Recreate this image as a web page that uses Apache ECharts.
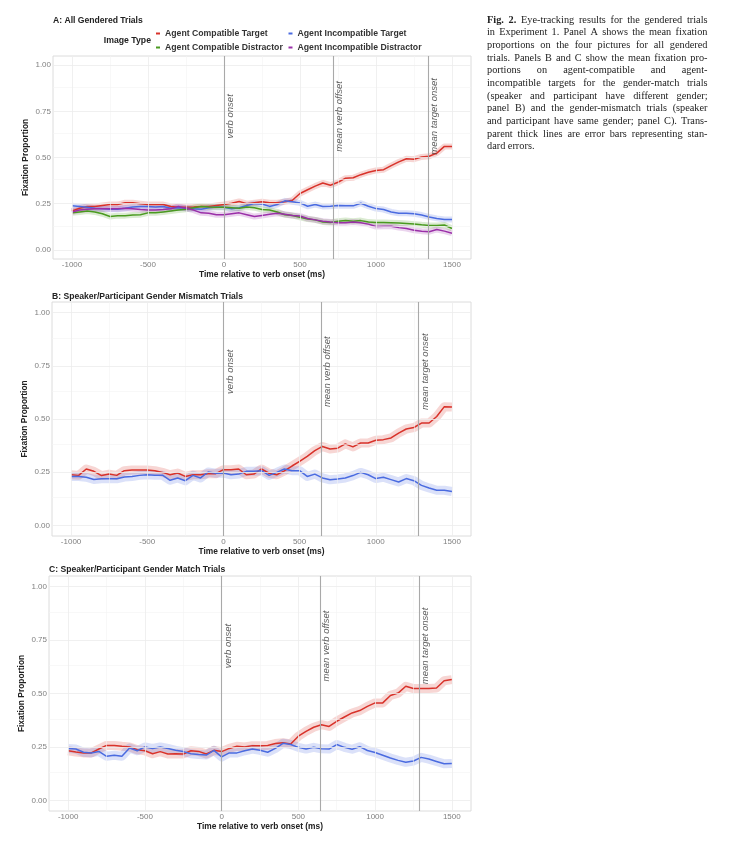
<!DOCTYPE html>
<html><head><meta charset="utf-8">
<script src="https://cdn.jsdelivr.net/npm/echarts@6/dist/echarts.min.js"></script>
<style>html,body{margin:0;padding:0;background:#fff}#chart{width:753px;height:860px}</style>
</head><body><div id="chart"></div>
<script>
// ---------------- data ----------------
const times = [-1000,-950,-900,-850,-800,-750,-700,-650,-600,-550,-500,-450,-400,-350,-300,-250,-200,-150,-100,-50,0,50,100,150,200,250,300,350,400,450,500,550,600,650,700,750,800,850,900,950,1000,1050,1100,1150,1200,1250,1300,1350,1400,1450,1500];

const seriesNames = ['Agent Compatible Target','Agent Incompatible Target','Agent Compatible Distractor','Agent Incompatible Distractor'];
const panelTitles = ['A: All Gendered Trials','B: Speaker/Participant Gender Mismatch Trials','C: Speaker/Participant Gender Match Trials'];
const legendTitle = 'Image Type';
const xAxisTitle = 'Time relative to verb onset (ms)';
const yAxisTitle = 'Fixation Proportion';

// Panel A
const aCompTarget = [0.21,0.225,0.235,0.235,0.24,0.245,0.245,0.255,0.255,0.25,0.245,0.245,0.245,0.235,0.23,0.23,0.232,0.235,0.235,0.24,0.245,0.252,0.262,0.25,0.255,0.26,0.255,0.255,0.26,0.268,0.305,0.325,0.345,0.362,0.35,0.366,0.388,0.39,0.407,0.42,0.43,0.434,0.456,0.476,0.493,0.491,0.503,0.507,0.524,0.56,0.56];
const aIncompTarget = [0.238,0.235,0.23,0.225,0.222,0.22,0.22,0.225,0.232,0.235,0.235,0.232,0.235,0.225,0.228,0.225,0.222,0.22,0.228,0.232,0.23,0.222,0.228,0.24,0.25,0.248,0.235,0.245,0.265,0.26,0.254,0.236,0.245,0.235,0.236,0.24,0.238,0.238,0.252,0.236,0.223,0.218,0.205,0.198,0.198,0.195,0.188,0.178,0.17,0.164,0.164];
const aCompDistractor = [0.2,0.205,0.21,0.205,0.195,0.18,0.185,0.185,0.188,0.19,0.2,0.2,0.205,0.21,0.215,0.22,0.228,0.235,0.232,0.23,0.23,0.228,0.225,0.232,0.228,0.218,0.215,0.205,0.19,0.186,0.176,0.167,0.162,0.151,0.148,0.155,0.158,0.155,0.158,0.15,0.148,0.148,0.147,0.145,0.142,0.139,0.135,0.132,0.132,0.134,0.115];
const aIncompDistractor = [0.205,0.215,0.22,0.222,0.222,0.222,0.222,0.225,0.222,0.218,0.215,0.215,0.218,0.222,0.235,0.225,0.215,0.2,0.198,0.19,0.19,0.195,0.2,0.19,0.18,0.186,0.192,0.198,0.192,0.186,0.183,0.169,0.162,0.155,0.15,0.146,0.146,0.15,0.146,0.139,0.126,0.128,0.128,0.12,0.115,0.106,0.101,0.098,0.11,0.101,0.09];

// Panel B
const bCompTarget = [0.238,0.235,0.265,0.254,0.234,0.241,0.235,0.257,0.26,0.26,0.26,0.257,0.249,0.238,0.246,0.23,0.238,0.238,0.243,0.243,0.262,0.262,0.265,0.238,0.241,0.265,0.245,0.238,0.256,0.279,0.301,0.324,0.351,0.371,0.359,0.363,0.383,0.369,0.387,0.387,0.4,0.403,0.411,0.434,0.453,0.46,0.481,0.481,0.512,0.558,0.556];
const bIncompTarget = [0.23,0.23,0.226,0.216,0.219,0.219,0.219,0.227,0.23,0.235,0.238,0.236,0.236,0.212,0.223,0.21,0.235,0.223,0.251,0.245,0.246,0.238,0.241,0.254,0.254,0.257,0.235,0.249,0.265,0.257,0.257,0.23,0.241,0.223,0.214,0.218,0.223,0.234,0.249,0.238,0.22,0.226,0.215,0.204,0.22,0.21,0.188,0.176,0.165,0.165,0.159];

// Panel C
const cCompTarget = [0.232,0.226,0.222,0.222,0.24,0.257,0.257,0.253,0.25,0.237,0.232,0.218,0.228,0.217,0.218,0.217,0.232,0.229,0.217,0.234,0.228,0.243,0.253,0.25,0.256,0.256,0.257,0.266,0.27,0.264,0.3,0.323,0.342,0.354,0.346,0.37,0.39,0.409,0.42,0.44,0.456,0.456,0.491,0.502,0.534,0.523,0.523,0.523,0.526,0.56,0.565];
const cIncompTarget = [0.243,0.24,0.225,0.222,0.229,0.206,0.211,0.206,0.245,0.232,0.25,0.243,0.25,0.243,0.234,0.228,0.218,0.214,0.212,0.234,0.203,0.222,0.222,0.232,0.24,0.234,0.225,0.243,0.267,0.261,0.248,0.24,0.248,0.241,0.24,0.261,0.248,0.239,0.251,0.233,0.224,0.211,0.198,0.187,0.178,0.184,0.201,0.193,0.182,0.171,0.172];

// Event markers (ms)
const eventNames = ['verb onset','mean verb offset','mean target onset'];
const aEvents = [0, 716, 1342];
const bEvents = [0, 640, 1282];
const cEvents = [0, 640, 1285];

// Ticks
const xTicks = [-1000,-500,0,500,1000,1500];
const xMinorTicks = [-750,-250,250,750,1250];
const yTicks = [0,0.25,0.5,0.75,1];
const yMinorTicks = [0.125,0.375,0.625,0.875];

// Caption
const captionLines = [
  'Fig. 2. Eye-tracking results for the gendered trials',
  'in Experiment 1. Panel A shows the mean fixation',
  'proportions on the four pictures for all gendered',
  'trials. Panels B and C show the mean fixation pro-',
  'portions on agent-compatible and agent-',
  'incompatible targets for the gender-match trials',
  '(speaker and participant have different gender;',
  'panel B) and the gender-mismatch trials (speaker',
  'and participant have same gender; panel C). Trans-',
  'parent thick lines are error bars representing stan-',
  'dard errors.'
];

// ---------------- styles ----------------
const COL = ['#d8322a', '#4a6be0', '#4a9a20', '#9a2fa8'];
const SANS = 'Liberation Sans';
const grids = [
  {left: 53, top: 56, width: 418, height: 203, outerBoundsMode: 'none', containLabel: false, show: true, borderColor: '#dcdcdc', borderWidth: 1, backgroundColor: '#fff'},
  {left: 52, top: 302, width: 419, height: 234, outerBoundsMode: 'none', containLabel: false, show: true, borderColor: '#dcdcdc', borderWidth: 1, backgroundColor: '#fff'},
  {left: 49, top: 576, width: 422, height: 235, outerBoundsMode: 'none', containLabel: false, show: true, borderColor: '#dcdcdc', borderWidth: 1, backgroundColor: '#fff'}
];
const titleY = [16, 292, 565];
const titleX = [53, 52, 49];

function pairs(arr) { return times.map((t, i) => [t, arr[i]]); }

const xAxes = grids.map((g, i) => ({
  type: 'value', gridIndex: i, min: -1125, max: 1625,
  axisLine: {show: false}, axisTick: {show: false}, splitLine: {show: false},
  axisLabel: {customValues: xTicks, formatter: v => String(v), color: '#808080', fontSize: 8, fontFamily: SANS, margin: 2},
  name: xAxisTitle, nameLocation: 'middle', nameGap: 12, nameMoveOverlap: false,
  nameTextStyle: {fontSize: 8.4, fontWeight: 'bold', color: '#222', fontFamily: SANS, verticalAlign: 'top'}
}));
const yAxes = grids.map((g, i) => ({
  type: 'value', gridIndex: i, min: -0.05, max: 1.05,
  axisLine: {show: false}, axisTick: {show: false}, splitLine: {show: false},
  axisLabel: {customValues: yTicks, formatter: v => v.toFixed(2), color: '#808080', fontSize: 8, fontFamily: SANS, margin: 2},
  name: yAxisTitle, nameLocation: 'middle', nameGap: 23, nameMoveOverlap: false,
  nameTextStyle: {fontSize: 8.4, fontWeight: 'bold', color: '#222', fontFamily: SANS}
}));

function gridHelper(g, events) {
  const ml = [];
  xMinorTicks.forEach(v => ml.push({xAxis: v, lineStyle: {color: '#f4f4f4', width: 0.6, type: 'solid'}}));
  yMinorTicks.forEach(v => ml.push({yAxis: v, lineStyle: {color: '#f4f4f4', width: 0.6, type: 'solid'}}));
  xTicks.forEach(v => ml.push({xAxis: v, lineStyle: {color: '#ececec', width: 0.8, type: 'solid'}}));
  yTicks.forEach(v => ml.push({yAxis: v, lineStyle: {color: '#ececec', width: 0.8, type: 'solid'}}));
  events.forEach(v => ml.push({xAxis: v, lineStyle: {color: '#a9a9a9', width: 1.1, type: 'solid'}}));
  return {
    type: 'scatter', name: 'grid' + g, xAxisIndex: g, yAxisIndex: g, z: 1, silent: true,
    data: [[0, 0.5]], symbolSize: 1, itemStyle: {color: 'rgba(0,0,0,0)'},
    markLine: {silent: true, symbol: ['none', 'none'], label: {show: false}, animation: false, data: ml}
  };
}
function eventLabels(g, events) {
  return {
    type: 'scatter', name: 'events' + g, xAxisIndex: g, yAxisIndex: g, z: 6, silent: true,
    symbolSize: 1, itemStyle: {color: 'rgba(0,0,0,0)'},
    data: events.map((t, i) => ({value: [t, 0.72], name: eventNames[i]})),
    label: {show: true, formatter: p => p.name, rotate: 90, position: [7, 0], align: 'center', verticalAlign: 'middle',
      fontStyle: 'italic', fontSize: 9.5, color: '#333', fontFamily: SANS}
  };
}
function dataSeries(g, list, bandWidth) {
  const out = [];
  list.forEach(([idx, arr]) => out.push({
    type: 'line', name: seriesNames[idx] + ' SE', xAxisIndex: g, yAxisIndex: g, data: pairs(arr),
    showSymbol: false, silent: true, z: 2, color: COL[idx],
    lineStyle: {color: COL[idx], width: bandWidth, opacity: 0.2, join: 'round'}, itemStyle: {color: COL[idx]}
  }));
  list.forEach(([idx, arr]) => out.push({
    type: 'line', name: seriesNames[idx], xAxisIndex: g, yAxisIndex: g, data: pairs(arr),
    showSymbol: false, silent: true, z: 3, color: COL[idx],
    lineStyle: {color: COL[idx], width: 1.5}, itemStyle: {color: COL[idx]}
  }));
  return out;
}

const series = [
  gridHelper(0, aEvents), gridHelper(1, bEvents), gridHelper(2, cEvents),
  ...dataSeries(0, [[0, aCompTarget], [1, aIncompTarget], [2, aCompDistractor], [3, aIncompDistractor]], 6),
  ...dataSeries(1, [[0, bCompTarget], [1, bIncompTarget]], 9),
  ...dataSeries(2, [[0, cCompTarget], [1, cIncompTarget]], 9),
  eventLabels(0, aEvents), eventLabels(1, bEvents), eventLabels(2, cEvents)
];

// ---------------- caption (justified) ----------------
const CAP_FONT = 'Liberation Serif', CAP_SIZE = 10.3;
const capLeft = 487, capWidth = 220.5, capTop = 20, capStep = 12.67;
const mctx = document.createElement('canvas').getContext('2d');
function measure(w, bold) {
  mctx.font = 'normal ' + (bold ? 'bold' : 'normal') + ' ' + CAP_SIZE + 'px ' + CAP_FONT;
  return mctx.measureText(w).width;
}
const graphics = [];
captionLines.forEach((line, li) => {
  const words = line.split(' ');
  const bolds = words.map((w, wi) => li === 0 && wi < 2);
  const widths = words.map((w, wi) => measure(w, bolds[wi]));
  const total = widths.reduce((a, b) => a + b, 0);
  const last = li === captionLines.length - 1;
  let gap = (!last && words.length > 1) ? (capWidth - total) / (words.length - 1) : measure(' ', false);
  if (gap < 1.2) gap = 1.2;
  let x = capLeft;
  words.forEach((w, wi) => {
    graphics.push({type: 'text', x: x, y: capTop + li * capStep, silent: true,
      style: {text: w, fontFamily: CAP_FONT, fontSize: CAP_SIZE, fontWeight: bolds[wi] ? 'bold' : 'normal', fill: '#222', align: 'left', verticalAlign: 'middle'}});
    x += widths[wi] + gap;
  });
});
graphics.push({type: 'text', x: 151, y: 41, silent: true,
  style: {text: legendTitle, fontFamily: SANS, fontSize: 8.7, fontWeight: 'bold', fill: '#222', align: 'right', verticalAlign: 'middle'}});

const legendCommon = {orient: 'vertical', top: 28.5, icon: 'rect', itemWidth: 4, itemHeight: 2, itemGap: 4, padding: 0, selectedMode: false,
  textStyle: {fontSize: 8.7, fontWeight: 'bold', color: '#333', fontFamily: SANS, lineHeight: 10}};

const option = {
  animation: false,
  backgroundColor: '#fff',
  textStyle: {fontFamily: SANS},
  title: panelTitles.map((t, i) => ({text: t, left: titleX[i], top: titleY[i], padding: 0,
    textStyle: {fontSize: 8.6, fontWeight: 'bold', color: '#222', fontFamily: SANS, lineHeight: 10}})),
  legend: [
    Object.assign({}, legendCommon, {left: 156, data: [seriesNames[0], seriesNames[2]]}),
    Object.assign({}, legendCommon, {left: 288.5, data: [seriesNames[1], seriesNames[3]]})
  ],
  grid: grids,
  xAxis: xAxes,
  yAxis: yAxes,
  series: series,
  graphic: graphics
};
const chart = echarts.init(document.getElementById('chart'), null, {renderer: 'canvas', width: 753, height: 860});
chart.setOption(option);
</script>
</body></html>
